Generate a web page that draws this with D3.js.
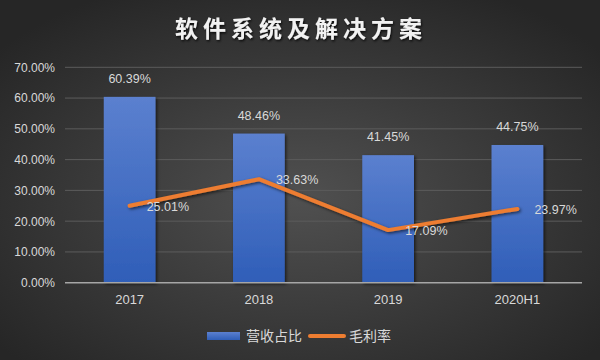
<!DOCTYPE html>
<html><head><meta charset="utf-8">
<script src="https://cdn.jsdelivr.net/npm/d3@7"></script>
<style>html,body{margin:0;padding:0;background:#333;}svg{display:block;}</style>
</head><body>
<svg id="chart" width="600" height="360"></svg>
<script>
const title = "软件系统及解决方案";
const categories = ["2017", "2018", "2019", "2020H1"];
const revenueShare = [60.39, 48.46, 41.45, 44.75];
const grossMargin = [25.01, 33.63, 17.09, 23.97];
const yTicks = [0, 10, 20, 30, 40, 50, 60, 70];
const seriesNames = ["营收占比", "毛利率"];

const W = 600, H = 360;
const m = {left: 65, right: 18, top: 67.3, bottom: 77.3};
const svg = d3.select("#chart");
const defs = svg.append("defs");

const bg = defs.append("radialGradient").attr("id", "bg").attr("cx", "50%").attr("cy", "55%").attr("r", "65%");
bg.append("stop").attr("offset", "0%").attr("stop-color", "#505050");
bg.append("stop").attr("offset", "100%").attr("stop-color", "#262626");
const barG = defs.append("linearGradient").attr("id", "barG").attr("x1", 0).attr("y1", 0).attr("x2", 0).attr("y2", 1);
barG.append("stop").attr("offset", "0%").attr("stop-color", "#5b80cf");
barG.append("stop").attr("offset", "100%").attr("stop-color", "#2f5eb8");
const sh = defs.append("filter").attr("id", "sh").attr("x", "-20%").attr("y", "-20%").attr("width", "140%").attr("height", "140%");
sh.append("feDropShadow").attr("dx", 1.5).attr("dy", 1.5).attr("stdDeviation", 1.5).attr("flood-color", "#000").attr("flood-opacity", 0.6);
const tsh = defs.append("filter").attr("id", "tsh");
tsh.append("feDropShadow").attr("dx", 1).attr("dy", 1.5).attr("stdDeviation", 1).attr("flood-color", "#000").attr("flood-opacity", 0.8);

svg.append("rect").attr("width", W).attr("height", H).attr("fill", "url(#bg)");

svg.append("text").attr("x", 301).attr("y", 36.5).attr("text-anchor", "middle")
  .attr("font-family", "Noto Sans CJK SC").attr("font-weight", "bold").attr("font-size", 23)
  .attr("letter-spacing", 5).attr("fill", "#f2f2f2").attr("filter", "url(#tsh)").text(title);

const x = d3.scaleBand().domain(categories).range([m.left, W - m.right]).paddingInner(0.6).paddingOuter(0.3);
const y = d3.scaleLinear().domain([0, 70]).range([H - m.bottom, m.top]);

// grid
svg.append("g").selectAll("line").data(yTicks.filter(d => d > 0)).join("line")
  .attr("x1", m.left).attr("x2", W - m.right)
  .attr("y1", d => y(d)).attr("y2", d => y(d))
  .attr("stroke", "#5c5c5c").attr("stroke-width", 1);

// y axis labels
const yAxis = d3.axisLeft(y).tickValues(yTicks).tickFormat(d => d.toFixed(2) + "%").tickSize(0).tickPadding(10);
const ya = svg.append("g").attr("transform", `translate(${m.left},0)`).call(yAxis);
ya.select(".domain").remove();
ya.selectAll("text").attr("fill", "#d9d9d9").attr("font-size", 12).attr("font-family", "Liberation Sans, Arial, sans-serif");

// bars
svg.append("g").selectAll("rect").data(categories).join("rect")
  .attr("x", d => x(d)).attr("width", x.bandwidth())
  .attr("y", (d, i) => y(revenueShare[i])).attr("height", (d, i) => y(0) - y(revenueShare[i]))
  .attr("fill", "url(#barG)").attr("filter", "url(#sh)");

// x axis
const xAxis = d3.axisBottom(x).tickSize(0).tickPadding(12);
const xa = svg.append("g").attr("transform", `translate(0,${y(0)})`).call(xAxis);
xa.select(".domain").attr("stroke", "#a6a6a6").attr("stroke-width", 1.5)
  .attr("d", `M${m.left},0H${W - m.right}`);
xa.selectAll("text").attr("fill", "#d9d9d9").attr("font-size", 13).attr("font-family", "Liberation Sans, Arial, sans-serif");

// bar labels
svg.append("g").selectAll("text").data(categories).join("text")
  .attr("x", d => x(d) + x.bandwidth() / 2).attr("y", (d, i) => y(revenueShare[i]) - 14)
  .attr("text-anchor", "middle").attr("fill", "#d9d9d9").attr("font-size", 12.5)
  .attr("font-family", "Liberation Sans, Arial, sans-serif")
  .text((d, i) => revenueShare[i].toFixed(2) + "%");

// line
const line = d3.line().x(d => x(d[0]) + x.bandwidth() / 2).y(d => y(d[1]));
svg.append("path").datum(categories.map((c, i) => [c, grossMargin[i]]))
  .attr("d", line).attr("fill", "none").attr("stroke", "#ed7d31").attr("stroke-width", 4)
  .attr("stroke-linecap", "round").attr("stroke-linejoin", "round").attr("filter", "url(#sh)");

svg.append("g").selectAll("text").data(categories).join("text")
  .attr("x", d => x(d) + x.bandwidth() / 2 + 17).attr("y", (d, i) => y(grossMargin[i]) + 5)
  .attr("fill", "#d9d9d9").attr("font-size", 12.5)
  .attr("font-family", "Liberation Sans, Arial, sans-serif")
  .text((d, i) => grossMargin[i].toFixed(2) + "%");

// legend
const lg = svg.append("g");
lg.append("rect").attr("x", 207).attr("y", 332).attr("width", 33).attr("height", 8).attr("fill", "url(#barG)");
lg.append("text").attr("x", 246).attr("y", 341).attr("fill", "#d9d9d9").attr("font-size", 14)
  .attr("font-family", "Noto Sans CJK SC").text(seriesNames[0]);
lg.append("line").attr("x1", 310).attr("x2", 344).attr("y1", 336).attr("y2", 336)
  .attr("stroke", "#ed7d31").attr("stroke-width", 4).attr("stroke-linecap", "round");
lg.append("text").attr("x", 349).attr("y", 341).attr("fill", "#d9d9d9").attr("font-size", 14)
  .attr("font-family", "Noto Sans CJK SC").text(seriesNames[1]);
</script>
</body></html>
